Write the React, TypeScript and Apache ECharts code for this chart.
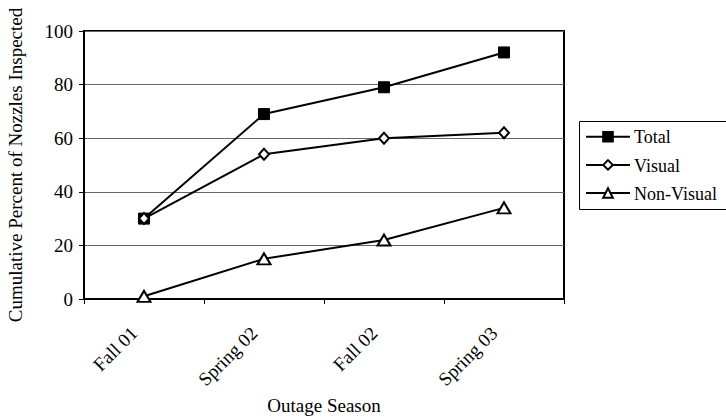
import React, { useEffect, useRef } from "react";
import * as echarts from "echarts";

const categories = ["Fall 01", "Spring 02", "Fall 02", "Spring 03"];
const totalValues = [30, 69, 79, 92];
const visualValues = [30, 54, 60, 62];
const nonVisualValues = [1, 15, 22, 34];
const seriesNames = ["Total", "Visual", "Non-Visual"];
const yTicks = { min: 0, max: 100, interval: 20 };

const FONT = "'Liberation Serif', 'Times New Roman', serif";

export default function App() {
  const ref = useRef<HTMLDivElement>(null);
  useEffect(() => {
    if (!ref.current) return;
    const chart = echarts.init(ref.current, undefined, { renderer: "svg" });
    const lineStyle = { color: "#000", width: 2 };
    const legendTop = 131;
    const legendRow = 28.5;
    chart.setOption({
      animation: false,
      backgroundColor: "#fff",
      textStyle: { fontFamily: FONT, color: "#000" },
      grid: {
        left: 84,
        right: 162,
        top: 31,
        bottom: 119,
        show: true,
        borderColor: "#000",
        borderWidth: 2,
        backgroundColor: "transparent",
        containLabel: false,
        outerBoundsMode: "none",
      },
      legend: {
        orient: "vertical",
        left: 585,
        top: legendTop,
        padding: 0,
        itemWidth: 44,
        itemHeight: 12,
        itemGap: legendRow - 12,
        formatter: () => "",
        textStyle: { fontSize: 12, lineHeight: 12, color: "#000" },
        data: seriesNames,
      },
      graphic: [
        {
          type: "rect",
          silent: true,
          shape: { x: 579.5, y: 121.5, width: 150, height: 88 },
          style: { fill: "none", stroke: "#000", lineWidth: 1 },
        },
        ...seriesNames.map((n, i) => ({
          type: "text",
          silent: true,
          x: 634,
          y: legendTop + 6 + i * legendRow,
          style: {
            text: n,
            fontFamily: FONT,
            fontSize: 18,
            fill: "#000",
            verticalAlign: "middle",
            align: "left",
          },
        })),
      ],
      xAxis: {
        type: "category",
        data: categories,
        boundaryGap: true,
        name: "Outage Season",
        nameLocation: "middle",
        nameGap: 96,
        nameTextStyle: { fontFamily: FONT, fontSize: 19, color: "#000" },
        axisLine: { lineStyle: { color: "#000", width: 2 } },
        axisTick: { show: true, length: 5, lineStyle: { color: "#000", width: 1 } },
        axisLabel: {
          rotate: 45,
          margin: 21,
          padding: [0, 14, 0, 0],
          fontFamily: FONT,
          fontSize: 19,
          color: "#000",
        },
        splitLine: { show: false },
      },
      yAxis: {
        type: "value",
        min: yTicks.min,
        max: yTicks.max,
        interval: yTicks.interval,
        name: "Cumulative Percent of Nozzles Inspected",
        nameLocation: "middle",
        nameGap: 59,
        nameTextStyle: { fontFamily: FONT, fontSize: 19, color: "#000" },
        axisLine: { show: true, lineStyle: { color: "#000", width: 2 } },
        axisTick: { show: true, length: 5, lineStyle: { color: "#000", width: 1 } },
        axisLabel: { margin: 11, fontFamily: FONT, fontSize: 19, color: "#000" },
        splitLine: { show: true, lineStyle: { color: "#666", width: 1 } },
      },
      series: [
        {
          name: seriesNames[0],
          type: "line",
          data: totalValues,
          symbol: "rect",
          symbolSize: 11,
          showAllSymbol: true,
          lineStyle,
          itemStyle: { color: "#000", borderColor: "#000", borderWidth: 1 },
        },
        {
          name: seriesNames[1],
          type: "line",
          data: visualValues,
          symbol: "diamond",
          symbolSize: [10, 11],
          showAllSymbol: true,
          lineStyle,
          itemStyle: { color: "#fff", borderColor: "#000", borderWidth: 2 },
        },
        {
          name: seriesNames[2],
          type: "line",
          data: nonVisualValues,
          symbol: "triangle",
          symbolSize: [13, 11],
          showAllSymbol: true,
          lineStyle,
          itemStyle: { color: "#fff", borderColor: "#000", borderWidth: 2 },
        },
      ],
    });
    return () => chart.dispose();
  }, []);
  return <div ref={ref} style={{ width: 726, height: 418, position: "absolute", left: 0, top: 0 }} />;
}
